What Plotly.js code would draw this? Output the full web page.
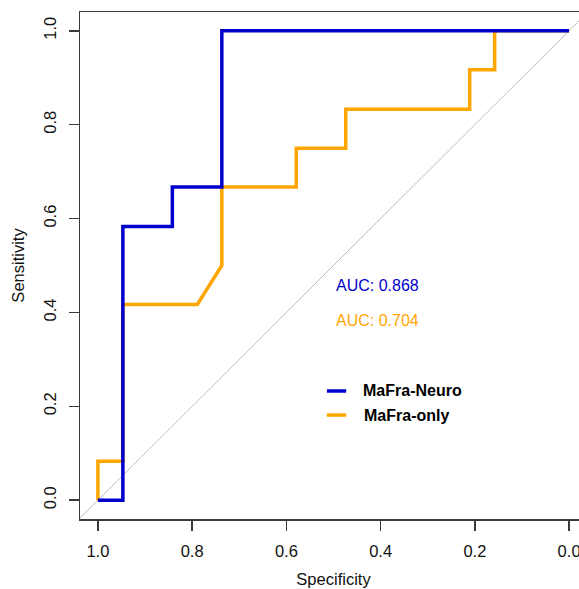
<!DOCTYPE html>
<html>
<head>
<meta charset="utf-8">
<script src="https://cdn.plot.ly/plotly-3.0.1.min.js"></script>
<style>
html,body{margin:0;padding:0;overflow:hidden;background:#fff;}
#chart{width:600px;height:589px;}
</style>
</head>
<body>
<div id="chart"></div>
<script>
// ROC curve data (specificity, sensitivity)
const neuroSpec = [1.0, 0.947, 0.947, 0.842, 0.842, 0.737, 0.737, 0.0];
const neuroSens = [0.0, 0.0, 0.583, 0.583, 0.667, 0.667, 1.0, 1.0];
const onlySpec = [1.0, 1.0, 0.947, 0.947, 0.789, 0.737, 0.737, 0.579, 0.579, 0.474, 0.474, 0.211, 0.211, 0.158, 0.158, 0.0];
const onlySens = [0.0, 0.083, 0.083, 0.417, 0.417, 0.5, 0.667, 0.667, 0.75, 0.75, 0.833, 0.833, 0.917, 0.917, 1.0, 1.0];
const refSpec = [1.1, -0.1];
const refSens = refSpec.map(v => 1 - v);
const seriesNames = ['MaFra-Neuro', 'MaFra-only'];
const aucValues = [0.868, 0.704];
const tickVals = [1.0, 0.8, 0.6, 0.4, 0.2, 0.0];
const tickText = ['1.0', '0.8', '0.6', '0.4', '0.2', '0.0'];

const BLUE = '#0000CD';
const ORANGE = '#FFA500';
const FONT = 'Liberation Sans, Arial, sans-serif';

const traces = [
  {x: refSpec, y: refSens, mode: 'lines', line: {color: '#BEBEBE', width: 1}, hoverinfo: 'skip', showlegend: false},
  {x: onlySpec, y: onlySens, mode: 'lines', name: seriesNames[1], line: {color: ORANGE, width: 3.5}, showlegend: false},
  {x: neuroSpec, y: neuroSens, mode: 'lines', name: seriesNames[0], line: {color: BLUE, width: 3.5}, showlegend: false}
];

const axisCommon = {
  showgrid: false, zeroline: false,
  showline: true, mirror: true, linecolor: '#3a3a3a', linewidth: 1.5,
  ticks: 'outside', ticklen: 10, tickwidth: 1.5, tickcolor: '#3a3a3a',
  tickvals: tickVals, ticktext: tickText,
  tickfont: {family: FONT, size: 16.5, color: '#111'},
  automargin: false
};

const layout = {
  width: 600, height: 589,
  margin: {l: 80, r: 13, t: 12, b: 70},
  paper_bgcolor: '#fff', plot_bgcolor: '#fff',
  font: {family: FONT, color: '#111'},
  xaxis: Object.assign({}, axisCommon, {
    range: [1.038, -0.038],
    ticklabelstandoff: 7,
    title: {text: 'Specificity', font: {family: FONT, size: 16.5, color: '#111'}, standoff: 14}
  }),
  yaxis: Object.assign({}, axisCommon, {
    range: [-0.04, 1.04],
    tickangle: -90,
    ticklabelstandoff: 6,
    title: {text: 'Sensitivity', font: {family: FONT, size: 16.5, color: '#111'}, standoff: 12}
  }),
  shapes: [
    {type: 'line', xref: 'paper', yref: 'paper', x0: 0.487, x1: 0.525, y0: 0.2525, y1: 0.2525, line: {color: BLUE, width: 3.5}},
    {type: 'line', xref: 'paper', yref: 'paper', x0: 0.487, x1: 0.525, y0: 0.205, y1: 0.205, line: {color: ORANGE, width: 3.5}}
  ],
  annotations: [
    {x: 0.5, y: 0.458, xref: 'x', yref: 'y', xanchor: 'left', yanchor: 'middle', showarrow: false,
     text: 'AUC: ' + aucValues[0].toFixed(3), font: {family: FONT, size: 16, color: BLUE}},
    {x: 0.5, y: 0.382, xref: 'x', yref: 'y', xanchor: 'left', yanchor: 'middle', showarrow: false,
     text: 'AUC: ' + aucValues[1].toFixed(3), font: {family: FONT, size: 16, color: ORANGE}},
    {x: 0.554, y: 0.2525, xref: 'paper', yref: 'paper', xanchor: 'left', yanchor: 'middle', showarrow: false,
     text: '<b>' + seriesNames[0] + '</b>', font: {family: FONT, size: 16, color: '#000'}},
    {x: 0.556, y: 0.205, xref: 'paper', yref: 'paper', xanchor: 'left', yanchor: 'middle', showarrow: false,
     text: '<b>' + seriesNames[1] + '</b>', font: {family: FONT, size: 16, color: '#000'}}
  ]
};

Plotly.newPlot('chart', traces, layout, {displayModeBar: false, staticPlot: true});
</script>
</body>
</html>
